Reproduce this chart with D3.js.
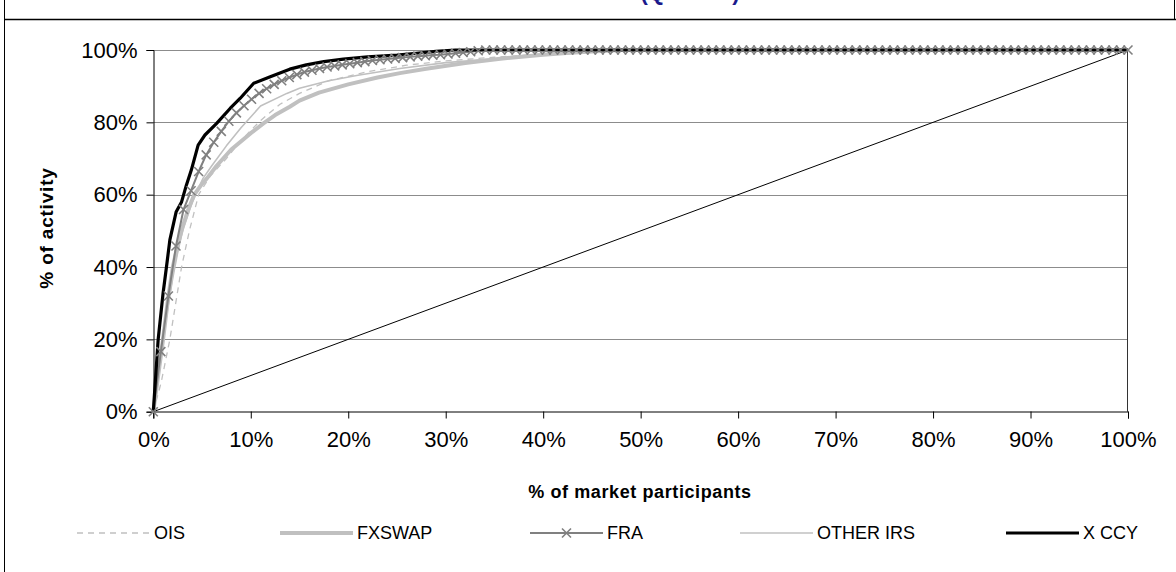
<!DOCTYPE html>
<html>
<head>
<meta charset="utf-8">
<script src="https://cdn.jsdelivr.net/npm/d3@7"></script>
<style>
    body { margin: 0; background: #fff; }
    svg { display: block; font-family: "Liberation Sans", Arial, sans-serif; }
</style>
</head>
<body>
<svg id="chart"></svg>
<script>
const width = 1176;
const height = 572;

// axis ticks (percent)
const xTicks = [0, 10, 20, 30, 40, 50, 60, 70, 80, 90, 100];
const yTicks = [0, 20, 40, 60, 80, 100];

// cumulative curves: x = % of market participants, y = % of activity
const oisX = [0, 0.8, 1.7, 2.3, 2.9, 3.7, 4.65, 5.8, 7.5, 9, 11, 13, 15, 18, 22, 26, 30, 35, 40, 45, 50, 100];
const oisY = [0, 8, 20, 30, 40, 50, 60, 65, 70, 75, 80.5, 85, 88, 91.5, 94, 95.8, 97, 98, 98.9, 99.5, 100, 100];

const fxswapX = [0, 0.5, 1, 1.5, 2, 2.5, 3, 3.6, 4.2, 5, 5.5, 6.5, 8, 10, 11.3, 12.5, 14, 15, 17, 20, 23, 25.3, 28, 32, 35.6, 40, 42.4, 45, 48, 100];
const fxswapY = [0, 10, 20, 31, 40, 46, 51, 56, 60, 63, 64.5, 68, 72.5, 77, 79.7, 82, 84.3, 86, 88.2, 90.5, 92.4, 93.6, 94.8, 96.4, 97.6, 98.7, 99.2, 99.6, 100, 100];

// FRA: one value per participant (evenly spaced along x)
const fraY = [
    0, 16.6, 32, 45.8, 55.9, 61.1, 66.4, 71, 74.5, 77.5,
    80.3, 82.6, 84.6, 86.4, 88, 89.3, 90.5, 91.5, 92.4, 93.2,
    93.9, 94.4, 94.9, 95.3, 95.6, 95.9, 96.2, 96.5, 96.8, 97.1,
    97.3, 97.5, 97.7, 97.9, 98.1, 98.3, 98.4, 98.6, 98.7, 98.9,
    99.1, 99.3, 99.5, 99.8, 100, 100, 100, 100, 100, 100,
    100, 100, 100, 100, 100, 100, 100, 100, 100, 100,
    100, 100, 100, 100, 100, 100, 100, 100, 100, 100,
    100, 100, 100, 100, 100, 100, 100, 100, 100, 100,
    100, 100, 100, 100, 100, 100, 100, 100, 100, 100,
    100, 100, 100, 100, 100, 100, 100, 100, 100, 100,
    100, 100, 100, 100, 100, 100, 100, 100, 100, 100,
    100, 100, 100, 100, 100, 100, 100, 100, 100, 100,
    100, 100, 100, 100, 100, 100, 100, 100, 100, 100
];

const otherIrsX = [0, 0.5, 1, 1.5, 2, 2.5, 3, 4, 5.1, 6, 7.5, 9, 11, 13.7, 15, 18, 21, 25.3, 30, 35.6, 40, 42.4, 45, 48, 100];
const otherIrsY = [0, 10, 20, 29, 37, 44, 50, 58, 64.5, 68, 73.5, 78.5, 84.5, 88, 89.4, 91.5, 93, 94.9, 96.5, 97.7, 98.7, 99, 99.5, 100, 100];

const xccyX = [0, 0.5, 1, 1.35, 1.7, 2.35, 2.9, 3.4, 3.9, 4.6, 5.3, 6.5, 7.9, 8.9, 10.3, 12, 14, 15.7, 17.5, 19.5, 22, 25, 27, 29, 31, 100];
const xccyY = [0, 20, 32.7, 40, 47.5, 55.3, 58, 62.7, 66.8, 73.7, 76.5, 79.7, 83.9, 86.6, 90.8, 92.6, 94.7, 95.9, 96.8, 97.5, 98.1, 98.6, 99.1, 99.6, 100, 100];

// equal-distribution reference line
const equalX = [0, 100];
const equalY = [0, 100];

const legendNames = ['OIS', 'FXSWAP', 'FRA', 'OTHER IRS', 'X CCY'];

const plot = { left: 153.3, right: 1128, top: 50, bottom: 411.7 };

const svg = d3.select('#chart')
    .attr('width', width)
    .attr('height', height);

const scales = {
    x: d3.scaleLinear().domain([0, 100]).range([plot.left, plot.right]),
    y: d3.scaleLinear().domain([0, 100]).range([plot.bottom, plot.top])
};

function pairs(xs, ys) {
    return xs.map((x, i) => [x, ys[i]]);
}

const fraX = fraY.map((_, i) => i / (fraY.length - 1) * 100);

const styles = {
    'OIS': { color: '#c0c0c0', width: 1.3, dash: '6,5' },
    'FXSWAP': { color: '#c0c0c0', width: 4, dash: null },
    'FRA': { color: '#808080', width: 2, dash: null },
    'OTHER IRS': { color: '#c0c0c0', width: 1.6, dash: null },
    'X CCY': { color: '#000000', width: 3.2, dash: null }
};

// frame
svg.append('line')
    .attr('x1', 4.5).attr('x2', 4.5).attr('y1', 0).attr('y2', height)
    .attr('stroke', '#000').attr('stroke-width', 1);
svg.append('line')
    .attr('x1', 1174.5).attr('x2', 1174.5).attr('y1', 0).attr('y2', 19)
    .attr('stroke', '#000').attr('stroke-width', 1);
svg.append('line')
    .attr('x1', 4).attr('x2', width).attr('y1', 19.5).attr('y2', 19.5)
    .attr('stroke', '#000').attr('stroke-width', 1.6);

// title, mostly cut off at the top of the picture (as in the source)
svg.append('text')
    .attr('x', 690).attr('y', 0)
    .attr('text-anchor', 'middle')
    .attr('font-size', 22)
    .attr('font-weight', 'bold')
    .attr('fill', '#1a1a8c')
    .text('(Q1 2009)');

// gridlines
svg.append('g')
    .selectAll('line')
    .data(yTicks.filter(d => d > 0))
    .join('line')
    .attr('x1', plot.left).attr('x2', plot.right)
    .attr('y1', d => Math.round(scales.y(d)) + 0.5)
    .attr('y2', d => Math.round(scales.y(d)) + 0.5)
    .attr('stroke', '#8c8c8c').attr('stroke-width', 1);

// plot area right border
svg.append('line')
    .attr('x1', Math.round(plot.right) - 0.5).attr('x2', Math.round(plot.right) - 0.5)
    .attr('y1', plot.top).attr('y2', plot.bottom)
    .attr('stroke', '#333').attr('stroke-width', 1);

// axes
const axes = {
    x: d3.axisBottom(scales.x).tickValues(xTicks).tickFormat(d => d + '%').tickSizeOuter(0).tickSize(7).tickPadding(11),
    y: d3.axisLeft(scales.y).tickValues(yTicks).tickFormat(d => d + '%').tickSizeOuter(0).tickSize(7).tickPadding(9)
};

const elAxes = {};
elAxes.x = svg.append('g')
    .attr('class', 'axis axis--x')
    .attr('transform', `translate(0,${Math.round(plot.bottom) - 0.5})`)
    .call(axes.x);
elAxes.y = svg.append('g')
    .attr('class', 'axis axis--y')
    .attr('transform', `translate(${Math.round(plot.left) + 0.5},0)`)
    .call(axes.y);

svg.selectAll('.axis path, .axis line').attr('stroke', '#000').attr('stroke-width', 1);
svg.selectAll('.axis text')
    .attr('font-family', '"Liberation Sans", Arial, sans-serif')
    .attr('font-size', 22)
    .attr('fill', '#000');
elAxes.x.selectAll('text').attr('dy', '0.78em');

// axis titles
svg.append('text')
    .attr('transform', 'translate(53,228) rotate(-90)')
    .attr('text-anchor', 'middle')
    .attr('font-size', 19)
    .attr('font-weight', 'bold')
    .attr('letter-spacing', 0.8)
    .text('% of activity');
svg.append('text')
    .attr('x', 640).attr('y', 498)
    .attr('text-anchor', 'middle')
    .attr('font-size', 18)
    .attr('font-weight', 'bold')
    .attr('letter-spacing', 0.6)
    .text('% of market participants');

// lines
const line = d3.line()
    .x(d => scales.x(d[0]))
    .y(d => scales.y(d[1]));

const elLines = svg.append('g').attr('class', 'lines');

function drawSeries(name, data) {
    const s = styles[name];
    elLines.append('path')
        .datum(data)
        .attr('fill', 'none')
        .attr('stroke', s.color)
        .attr('stroke-width', s.width)
        .attr('stroke-dasharray', s.dash)
        .attr('stroke-linejoin', 'round')
        .attr('d', line);
}

function crossPath(r) {
    return `M${-r},${-r}L${r},${r}M${-r},${r}L${r},${-r}`;
}

elLines.append('path')
    .datum(pairs(equalX, equalY))
    .attr('fill', 'none')
    .attr('stroke', '#000')
    .attr('stroke-width', 1)
    .attr('d', line);

drawSeries('OIS', pairs(oisX, oisY));
drawSeries('FXSWAP', pairs(fxswapX, fxswapY));
drawSeries('OTHER IRS', pairs(otherIrsX, otherIrsY));
drawSeries('FRA', pairs(fraX, fraY));
drawSeries('X CCY', pairs(xccyX, xccyY));

elLines.append('g')
    .selectAll('path')
    .data(pairs(fraX, fraY))
    .join('path')
    .attr('transform', d => `translate(${scales.x(d[0])},${scales.y(d[1])})`)
    .attr('d', crossPath(4.5))
    .attr('stroke', '#808080')
    .attr('stroke-width', 1.6)
    .attr('fill', 'none');

// legend
const legendX = [77, 280, 530, 740, 1006];
const legendY = 533;
const legend = svg.append('g')
    .selectAll('g')
    .data(legendNames)
    .join('g')
    .attr('transform', (d, i) => `translate(${legendX[i]},${legendY})`);

legend.append('line')
    .attr('x1', 0).attr('x2', 73)
    .attr('y1', 0).attr('y2', 0)
    .attr('stroke', d => styles[d].color)
    .attr('stroke-width', d => styles[d].width)
    .attr('stroke-dasharray', d => styles[d].dash);

legend.filter(d => d === 'FRA')
    .append('path')
    .attr('transform', 'translate(36.5,0)')
    .attr('d', crossPath(4.5))
    .attr('stroke', '#808080')
    .attr('stroke-width', 1.6);

legend.append('text')
    .attr('x', 77)
    .attr('y', 0)
    .attr('dy', '0.36em')
    .attr('font-size', 18)
    .text(d => d);
</script>
</body>
</html>
